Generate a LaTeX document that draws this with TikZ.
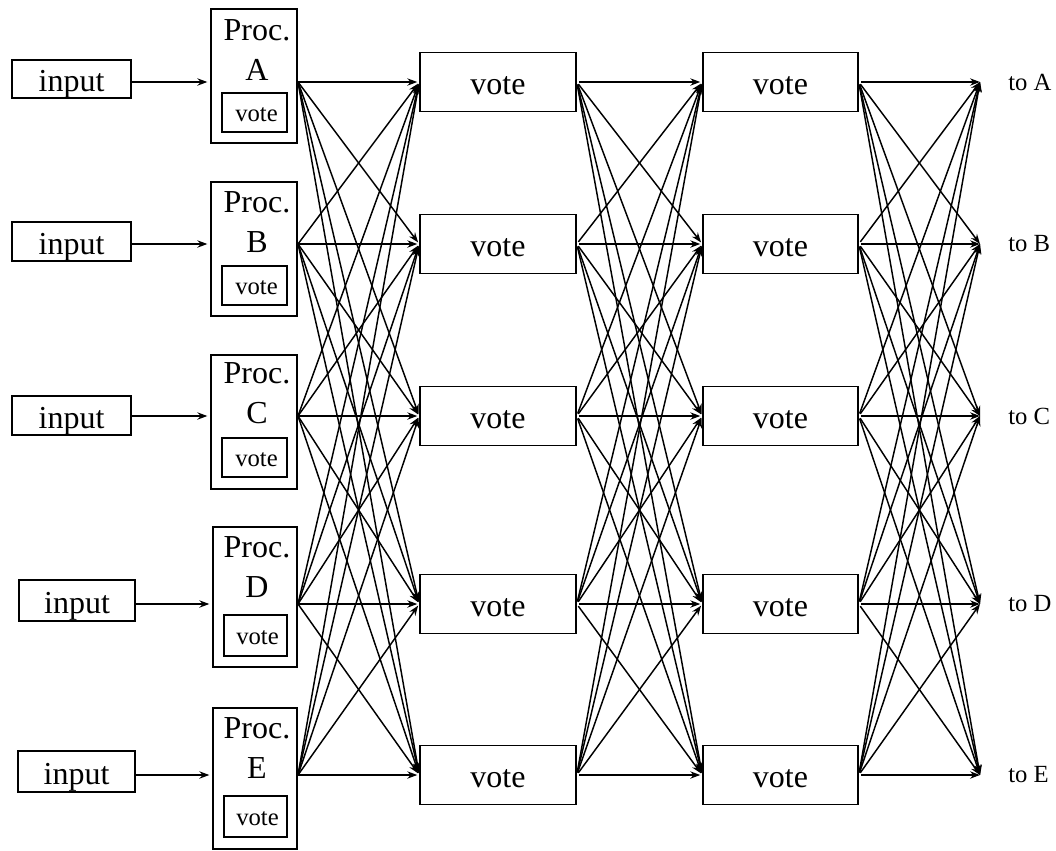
\documentclass[tikz,border=0pt]{standalone}
\usepackage{fontspec}
\setmainfont{Liberation Serif}
\usetikzlibrary{arrows.meta}
\begin{document}
\begin{tikzpicture}[x=0.75pt,y=-0.75pt,
  box/.style={draw,line width=1.1pt,rectangle,inner sep=0pt},
  sz/.style 2 args={minimum width=#1*0.75pt,minimum height=#2*0.75pt},
  big/.style={font=\fontsize{24}{30}\selectfont,text height=20pt,text depth=1pt},
  small/.style={font=\fontsize{18.5}{22}\selectfont,text height=13.5pt,text depth=0pt},
  link/.style={line width=1.1pt,-{Stealth[length=7.5pt,width=5.5pt,inset=2.5pt]}}]
\useasboundingbox (0,0) rectangle (1056,850);

% input boxes
\node[box,big,sz={119}{38}] (inA) at (71.5,79)    {input\hspace{10pt}};
\node[box,big,sz={119}{39}] (inB) at (71.5,241.5) {input\hspace{10pt}};
\node[box,big,sz={119}{39}] (inC) at (71.5,415.5) {input\hspace{10pt}};
\node[box,big,sz={116}{41}] (inD) at (77,600.5)   {input\hspace{10pt}};
\node[box,big,sz={117}{41}] (inE) at (76.5,771.5) {input\hspace{10pt}};

% processor boxes, their names and their own vote boxes
\node[box,sz={86}{134}] (pA) at (254,76)    {};
\node[box,sz={86}{134}] (pB) at (254,249)   {};
\node[box,sz={86}{134}] (pC) at (254,422)   {};
\node[box,sz={84}{140}] (pD) at (255,597)   {};
\node[box,sz={84}{141}] (pE) at (255,778.5) {};

% base anchor sits on the last line (the letter)
\foreach \r/\y in {A/80,B/252,C/423,D/597,E/778}
  \node[font=\fontsize{24}{30}\selectfont,align=center,inner sep=0pt,anchor=base]
    (name\r) at (257,\y) {Proc.\\\r};

\node[box,small,sz={65}{39}] (ivA) at (254.5,112.5) {\hspace{3pt}vote};
\node[box,small,sz={65}{39}] (ivB) at (254.5,285.5) {\hspace{3pt}vote};
\node[box,small,sz={65}{39}] (ivC) at (254.5,457.5) {\hspace{3pt}vote};
\node[box,small,sz={63}{41}] (ivD) at (255.5,635.5) {\hspace{3pt}vote};
\node[box,small,sz={63}{41}] (ivE) at (255.5,816.5) {\hspace{3pt}vote};

% voting stages, fan-out points and destination labels
\foreach \r/\y in {A/82,B/244,C/416,D/604,E/775}{
  \coordinate (s\r) at (298,\y);
  \node[box,big,sz={156}{59}] (v1\r) at (498,\y) {vote};
  \node[box,big,sz={155}{59}] (v2\r) at (780.5,\y) {vote\hspace{6.5pt}};
  \coordinate (t\r) at (980,\y);
  \node[font=\fontsize{18.5}{22}\selectfont,anchor=west,inner sep=0pt] (to\r) at (1008,\y) {to \r};
}

% inputs feed the processors
\foreach \r in {A,B,C,D,E}
  \draw[link,shorten >=2.2pt] (in\r.east |- s\r) -- (p\r.west |- s\r);

% every stage sends to every vote of the next stage
\foreach \s in {A,B,C,D,E}
  \foreach \t in {A,B,C,D,E}{
    \draw[link,shorten >=1.5pt] (s\s) -- (v1\t.west);
    \draw[link,shorten <=2pt,shorten >=1.5pt] (v1\s.east) -- (v2\t.west);
    \draw[link,shorten <=2pt] (v2\s.east) -- (t\t);
  }
\end{tikzpicture}
\end{document}
